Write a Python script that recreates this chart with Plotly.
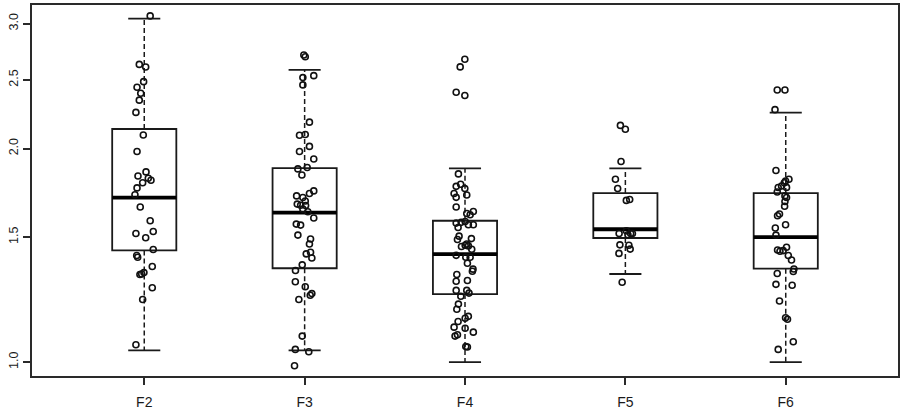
import math
import plotly.graph_objects as go

# ---------------- data ----------------
categories = ["F2", "F3", "F4", "F5", "F6"]

q1 = [1.437, 1.356, 1.247, 1.496, 1.354]
median = [1.705, 1.624, 1.420, 1.539, 1.500]
q3 = [2.131, 1.877, 1.582, 1.731, 1.731]
whisker_low = [1.039, 1.039, 1.000, 1.331, 1.000]
whisker_high = [3.050, 2.581, 1.875, 1.875, 2.248]

f2_values = [3.076, 2.628, 2.606, 2.485, 2.440, 2.393, 2.340, 2.249, 2.090, 1.981,
             1.854, 1.829, 1.816, 1.804, 1.790, 1.760, 1.721, 1.654, 1.582, 1.518,
             1.528, 1.497, 1.441, 1.413, 1.405, 1.364, 1.329, 1.337, 1.331, 1.273,
             1.225, 1.058]
f2_jitter = [0.037, -0.031, 0.009, -0.004, -0.045, -0.022, -0.031, -0.052, -0.006, -0.045,
             0.011, -0.039, 0.025, 0.042, -0.010, -0.045, -0.058, -0.025, 0.037, -0.052,
             0.056, 0.009, 0.056, -0.047, -0.041, 0.050, -0.027, -0.002, -0.016, 0.050,
             -0.010, -0.052]

f3_values = [2.709, 2.694, 2.518, 2.534, 2.459, 2.179, 2.088, 2.093, 1.981, 2.014,
             1.933, 1.872, 1.881, 1.835, 1.743, 1.728, 1.715, 1.706, 1.687, 1.670,
             1.664, 1.662, 1.643, 1.629, 1.596, 1.565, 1.560, 1.510, 1.491, 1.467,
             1.421, 1.428, 1.402, 1.371, 1.346, 1.298, 1.277, 1.249, 1.242, 1.225,
             1.088, 1.042, 1.034, 0.988]
f3_jitter = [-0.005, 0.004, -0.011, 0.057, -0.011, 0.030, -0.032, 0.004, -0.032, 0.030,
             0.057, -0.042, 0.016, -0.017, 0.057, 0.030, -0.050, -0.011, 0.004, -0.046,
             -0.025, 0.006, -0.011, 0.020, 0.057, -0.052, -0.025, -0.042, 0.037, 0.030,
             0.010, 0.037, 0.045, -0.015, -0.057, -0.058, 0.004, 0.045, 0.035, -0.036,
             -0.015, -0.058, 0.026, -0.063]

f4_values = [2.673, 2.607, 2.401, 2.376, 1.842, 1.781, 1.769, 1.756, 1.728, 1.707,
             1.720, 1.654, 1.620, 1.630, 1.613, 1.570, 1.574, 1.578, 1.562, 1.562,
             1.548, 1.505, 1.489, 1.493, 1.467, 1.461, 1.458, 1.455, 1.442, 1.414,
             1.405, 1.405, 1.378, 1.352, 1.343, 1.329, 1.300, 1.303, 1.262, 1.262,
             1.251, 1.238, 1.207, 1.187, 1.160, 1.153, 1.141, 1.120, 1.116, 1.093,
             1.088, 1.102, 1.052, 1.050]
f4_jitter = [-0.001, -0.030, -0.055, -0.001, -0.041, -0.027, -0.055, -0.001, -0.068, -0.055,
             0.011, -0.055, 0.011, 0.052, 0.032, -0.055, -0.024, 0.001, 0.021, 0.052,
             -0.043, -0.037, -0.047, 0.040, 0.011, 0.001, 0.021, -0.022, 0.042, -0.055,
             0.005, 0.032, 0.015, 0.050, 0.046, -0.051, -0.055, 0.015, -0.055, 0.011,
             0.025, -0.026, -0.041, -0.051, 0.021, 0.001, -0.043, -0.068, 0.001, -0.047,
             -0.062, 0.052, 0.005, 0.015]

f5_values = [2.156, 2.129, 1.918, 1.810, 1.757, 1.690, 1.695, 1.518, 1.531, 1.518,
             1.512, 1.518, 1.463, 1.461, 1.443, 1.423, 1.296]
f5_jitter = [-0.031, 0.000, -0.027, -0.062, -0.048, 0.006, 0.027, -0.039, 0.006, 0.033,
             0.016, 0.044, -0.034, 0.022, 0.030, -0.040, -0.020]

f6_values = [2.419, 2.419, 2.269, 1.862, 1.810, 1.790, 1.800, 1.762, 1.771, 1.763,
             1.737, 1.715, 1.706, 1.684, 1.658, 1.608, 1.617, 1.562, 1.545, 1.510,
             1.452, 1.439, 1.433, 1.436, 1.413, 1.393, 1.353, 1.342, 1.333, 1.287,
             1.283, 1.219, 1.155, 1.149, 1.068, 1.042]
f6_jitter = [-0.053, -0.005, -0.067, -0.061, 0.020, -0.009, -0.001, -0.047, -0.026, 0.005,
             -0.053, -0.005, 0.005, -0.005, -0.007, -0.051, -0.039, -0.001, -0.065, -0.061,
             0.005, -0.051, -0.036, -0.016, 0.016, 0.036, 0.051, 0.047, -0.053, -0.061,
             0.040, -0.039, -0.001, 0.011, 0.047, -0.047]

y_tick_values = [1.0, 1.5, 2.0, 2.5, 3.0]
y_tick_labels = ["1.0", "1.5", "2.0", "2.5", "3.0"]
y_limits = [0.9558, 3.187]

# ---------------- styling ----------------
INK = "#1a1a1a"
FRAME = "#2a2a2a"
BOX_W = 0.2      # half box width (data units)
CAP_W = 0.1      # half cap width
FONT = "Liberation Sans, Arial, sans-serif"

positions = list(range(1, len(categories) + 1))
point_sets = [(f2_values, f2_jitter), (f3_values, f3_jitter), (f4_values, f4_jitter),
              (f5_values, f5_jitter), (f6_values, f6_jitter)]

fig = go.Figure()

# box bodies
fig.add_trace(go.Box(
    x=positions, q1=q1, median=median, q3=q3,
    lowerfence=q1, upperfence=q3,
    width=2 * BOX_W, whiskerwidth=0,
    fillcolor="rgba(255,255,255,0)",
    line=dict(color=INK, width=1.8),
    boxpoints=False, showlegend=False, hoverinfo="skip",
))

# dashed whiskers
wx, wy = [], []
for p, lo, a, b, hi in zip(positions, whisker_low, q1, q3, whisker_high):
    wx += [p, p, None, p, p, None]
    wy += [b, hi, None, a, lo, None]
fig.add_trace(go.Scatter(x=wx, y=wy, mode="lines",
                         line=dict(color=INK, width=1.5, dash="5px,3px"),
                         showlegend=False, hoverinfo="skip"))

# whisker caps
cx, cy = [], []
for p, lo, hi in zip(positions, whisker_low, whisker_high):
    cx += [p - CAP_W, p + CAP_W, None, p - CAP_W, p + CAP_W, None]
    cy += [hi, hi, None, lo, lo, None]
fig.add_trace(go.Scatter(x=cx, y=cy, mode="lines",
                         line=dict(color=INK, width=1.8),
                         showlegend=False, hoverinfo="skip"))

# thick medians
mx, my = [], []
for p, m in zip(positions, median):
    mx += [p - BOX_W, p + BOX_W, None]
    my += [m, m, None]
fig.add_trace(go.Scatter(x=mx, y=my, mode="lines",
                         line=dict(color="#000000", width=3.8),
                         showlegend=False, hoverinfo="skip"))

# jittered points
for p, (vals, jit) in zip(positions, point_sets):
    fig.add_trace(go.Scatter(
        x=[p + j for j in jit], y=vals, mode="markers",
        marker=dict(symbol="circle-open", size=6, color="#111111",
                    line=dict(width=1.6, color="#111111")),
        showlegend=False, hoverinfo="skip"))

fig.update_layout(
    width=903, height=420,
    margin=dict(l=32, r=3, t=3, b=44),
    paper_bgcolor="white", plot_bgcolor="white",
    font=dict(family=FONT, color=INK),
)
fig.update_xaxes(
    range=[0.3, 5.7], tickmode="array", tickvals=positions, ticktext=categories,
    showgrid=False, zeroline=False,
    showline=True, mirror=True, linecolor=FRAME, linewidth=1.8,
    ticks="outside", ticklen=7, tickwidth=1.6, tickcolor=FRAME,
    tickfont=dict(size=14, color=INK, family=FONT),
    ticklabelstandoff=5,
)
fig.update_yaxes(
    type="log", range=[math.log10(y_limits[0]), math.log10(y_limits[1])],
    tickmode="array", tickvals=y_tick_values, ticktext=y_tick_labels,
    showgrid=False, zeroline=False,
    showline=True, mirror=True, linecolor=FRAME, linewidth=1.8,
    ticks="outside", ticklen=7, tickwidth=1.6, tickcolor=FRAME,
    tickangle=-90, tickfont=dict(size=12.5, color=INK, family=FONT),
)

fig.write_html("out.html")
